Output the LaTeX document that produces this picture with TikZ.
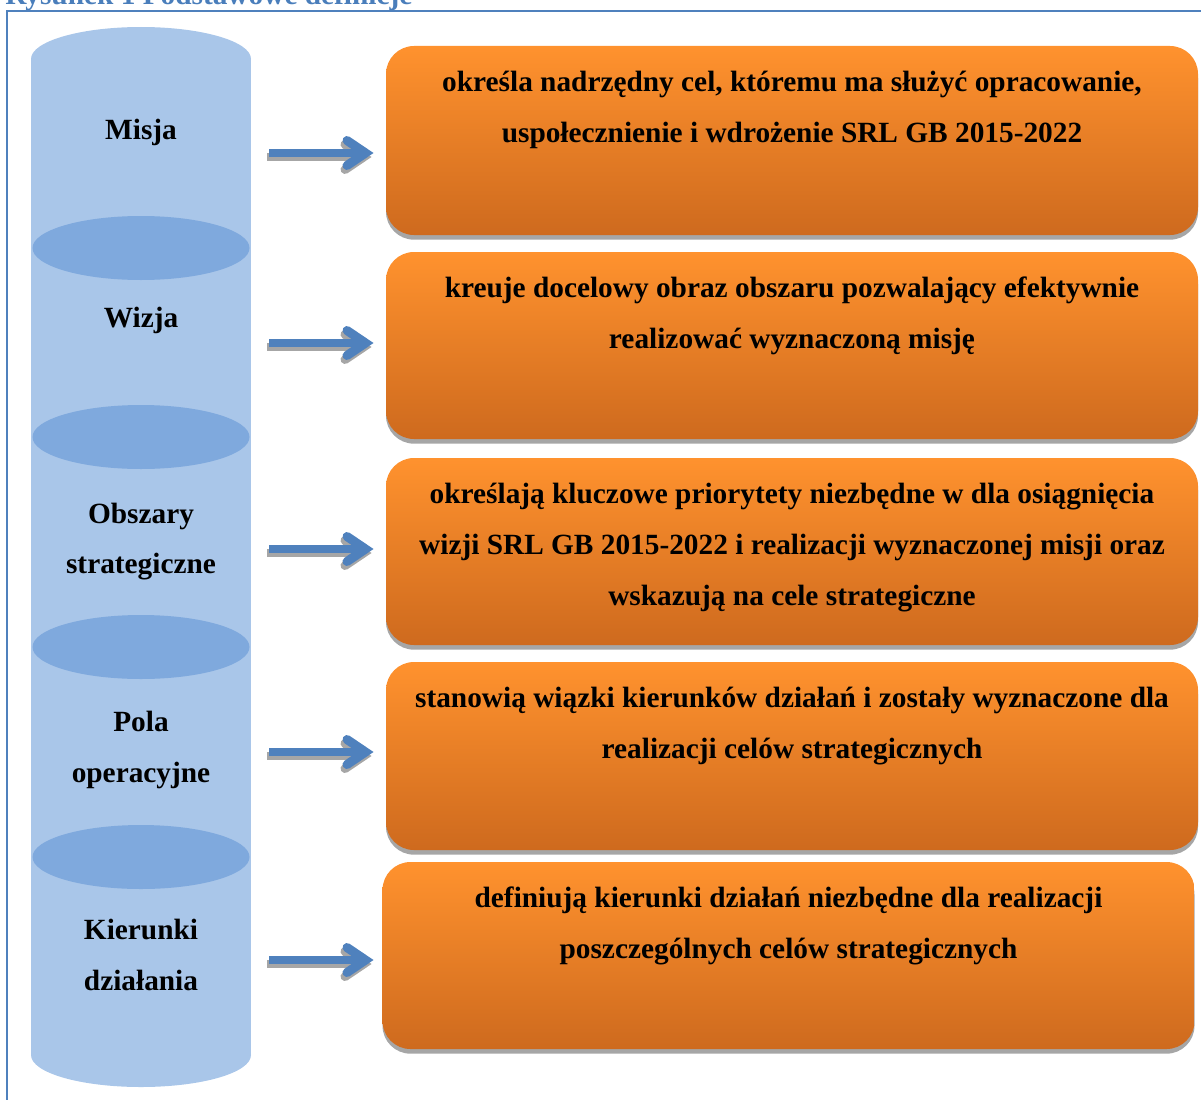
\documentclass[tikz,border=0pt]{standalone}
\usepackage{fontspec}
\setmainfont{Liberation Serif}
\usetikzlibrary{shadows}
\definecolor{cyllight}{RGB}{169,198,233}
\definecolor{cyldark}{RGB}{127,169,221}
\definecolor{arrowblue}{RGB}{79,129,189}
\definecolor{framblue}{RGB}{79,129,189}
\definecolor{titleblue}{RGB}{74,126,187}
\definecolor{shadowgray}{RGB}{166,166,166}
\definecolor{otop}{RGB}{255,146,46}
\definecolor{omid}{RGB}{238,130,38}
\definecolor{obot}{RGB}{206,106,30}
\tikzset{
  obox/.style={rectangle, rounded corners=21pt, top color=otop, middle color=omid, bottom color=obot,
    general shadow={fill=shadowgray, shadow yshift=-3.5pt, shadow xshift=0pt},
    minimum width=812*0.75pt, inner sep=0pt},
  btext/.style={anchor=base, inner sep=0pt, font=\fontsize{22}{38}\selectfont\bfseries, text=black},
  shaftline/.style={line width=6pt, line cap=butt},
  headline/.style={line width=6.75pt, line cap=round, line join=miter},
}
\begin{document}
\begin{tikzpicture}[x=0.75pt,y=-0.75pt]
\useasboundingbox (0,0) rectangle (1201,1099);
% title (cut off at top, as in the reference)
\node[anchor=base west, inner sep=0pt, text=titleblue, font=\fontsize{22}{26}\selectfont\bfseries] (title) at (5,5) {Rysunek 1 Podstawowe definicje};
% frame
\draw[framblue, line width=1.5pt] (7,1110) -- (7,11) -- (1210,11);
% cylinders
\fill[cyllight] (31,59) rectangle (251,1055);
\fill[cyllight] (141,59) ellipse [x radius=110, y radius=32];
\fill[cyllight] (141,1055) ellipse [x radius=110, y radius=32];
\foreach \t in {248,437,647,857}{
  \fill[cyldark] (141,\t) ellipse [x radius=108.5, y radius=32];
}
\node[btext] (c1a) at (141,139) {Misja};
\node[btext] (c2a) at (141,327) {Wizja};
\node[btext] (c3a) at (141,523) {Obszary};
\node[btext] (c3b) at (141,573) {strategiczne};
\node[btext] (c4a) at (141,731) {Pola};
\node[btext] (c4b) at (141,782) {operacyjne};
\node[btext] (c5a) at (141,939) {Kierunki};
\node[btext] (c5b) at (141,990) {działania};
% boxes
\node[obox, minimum height=189*0.75pt] (b1) at (792,140.5) {};
\node[obox, minimum height=187*0.75pt] (b2) at (792,345.5) {};
\node[obox, minimum height=187*0.75pt] (b3) at (792,551.5) {};
\node[obox, minimum height=188*0.75pt] (b4) at (792,756) {};
\node[obox, minimum height=187*0.75pt] (b5) at (788.5,955.5) {};
% box texts
\node[btext] (t1a) at (792,91) {określa nadrzędny cel, któremu ma służyć opracowanie,};
\node[btext] (t1b) at (792,142) {uspołecznienie i wdrożenie SRL GB 2015-2022};
\node[btext] (t2a) at (792,297) {kreuje docelowy obraz obszaru pozwalający efektywnie};
\node[btext] (t2b) at (792,348) {realizować wyznaczoną misję};
\node[btext] (t3a) at (792,503) {określają kluczowe priorytety niezbędne w dla osiągnięcia};
\node[btext] (t3b) at (792,554) {wizji SRL GB 2015-2022 i realizacji wyznaczonej misji oraz};
\node[btext] (t3c) at (792,605) {wskazują na cele strategiczne};
\node[btext] (t4a) at (792,707) {stanowią wiązki kierunków działań i zostały wyznaczone dla};
\node[btext] (t4b) at (792,758) {realizacji celów strategicznych};
\node[btext] (t5a) at (788.5,907) {definiują kierunki działań niezbędne dla realizacji};
\node[btext] (t5b) at (788.5,958) {poszczególnych celów strategicznych};
% arrows
\foreach \i/\y in {1/153,2/343,3/549,4/752,5/960}{
  \coordinate (a\i s) at (269,\y);
  \coordinate (a\i e) at (375,\y);
  \begin{scope}[transform canvas={shift={(-1.5pt,-3pt)}}, shadowgray]
    \draw[shaftline] (a\i s) -- ([xshift=-13*0.75pt]a\i e);
    \draw[headline] ([xshift=-28*0.75pt, yshift=12.5*0.75pt]a\i e) -- ([xshift=-9.5*0.75pt]a\i e) -- ([xshift=-28*0.75pt, yshift=-12.5*0.75pt]a\i e);
  \end{scope}
  \draw[shaftline, arrowblue] (a\i s) -- ([xshift=-13*0.75pt]a\i e);
  \draw[headline, arrowblue] ([xshift=-28*0.75pt, yshift=12.5*0.75pt]a\i e) -- ([xshift=-9.5*0.75pt]a\i e) -- ([xshift=-28*0.75pt, yshift=-12.5*0.75pt]a\i e);
}
\end{tikzpicture}
\end{document}
